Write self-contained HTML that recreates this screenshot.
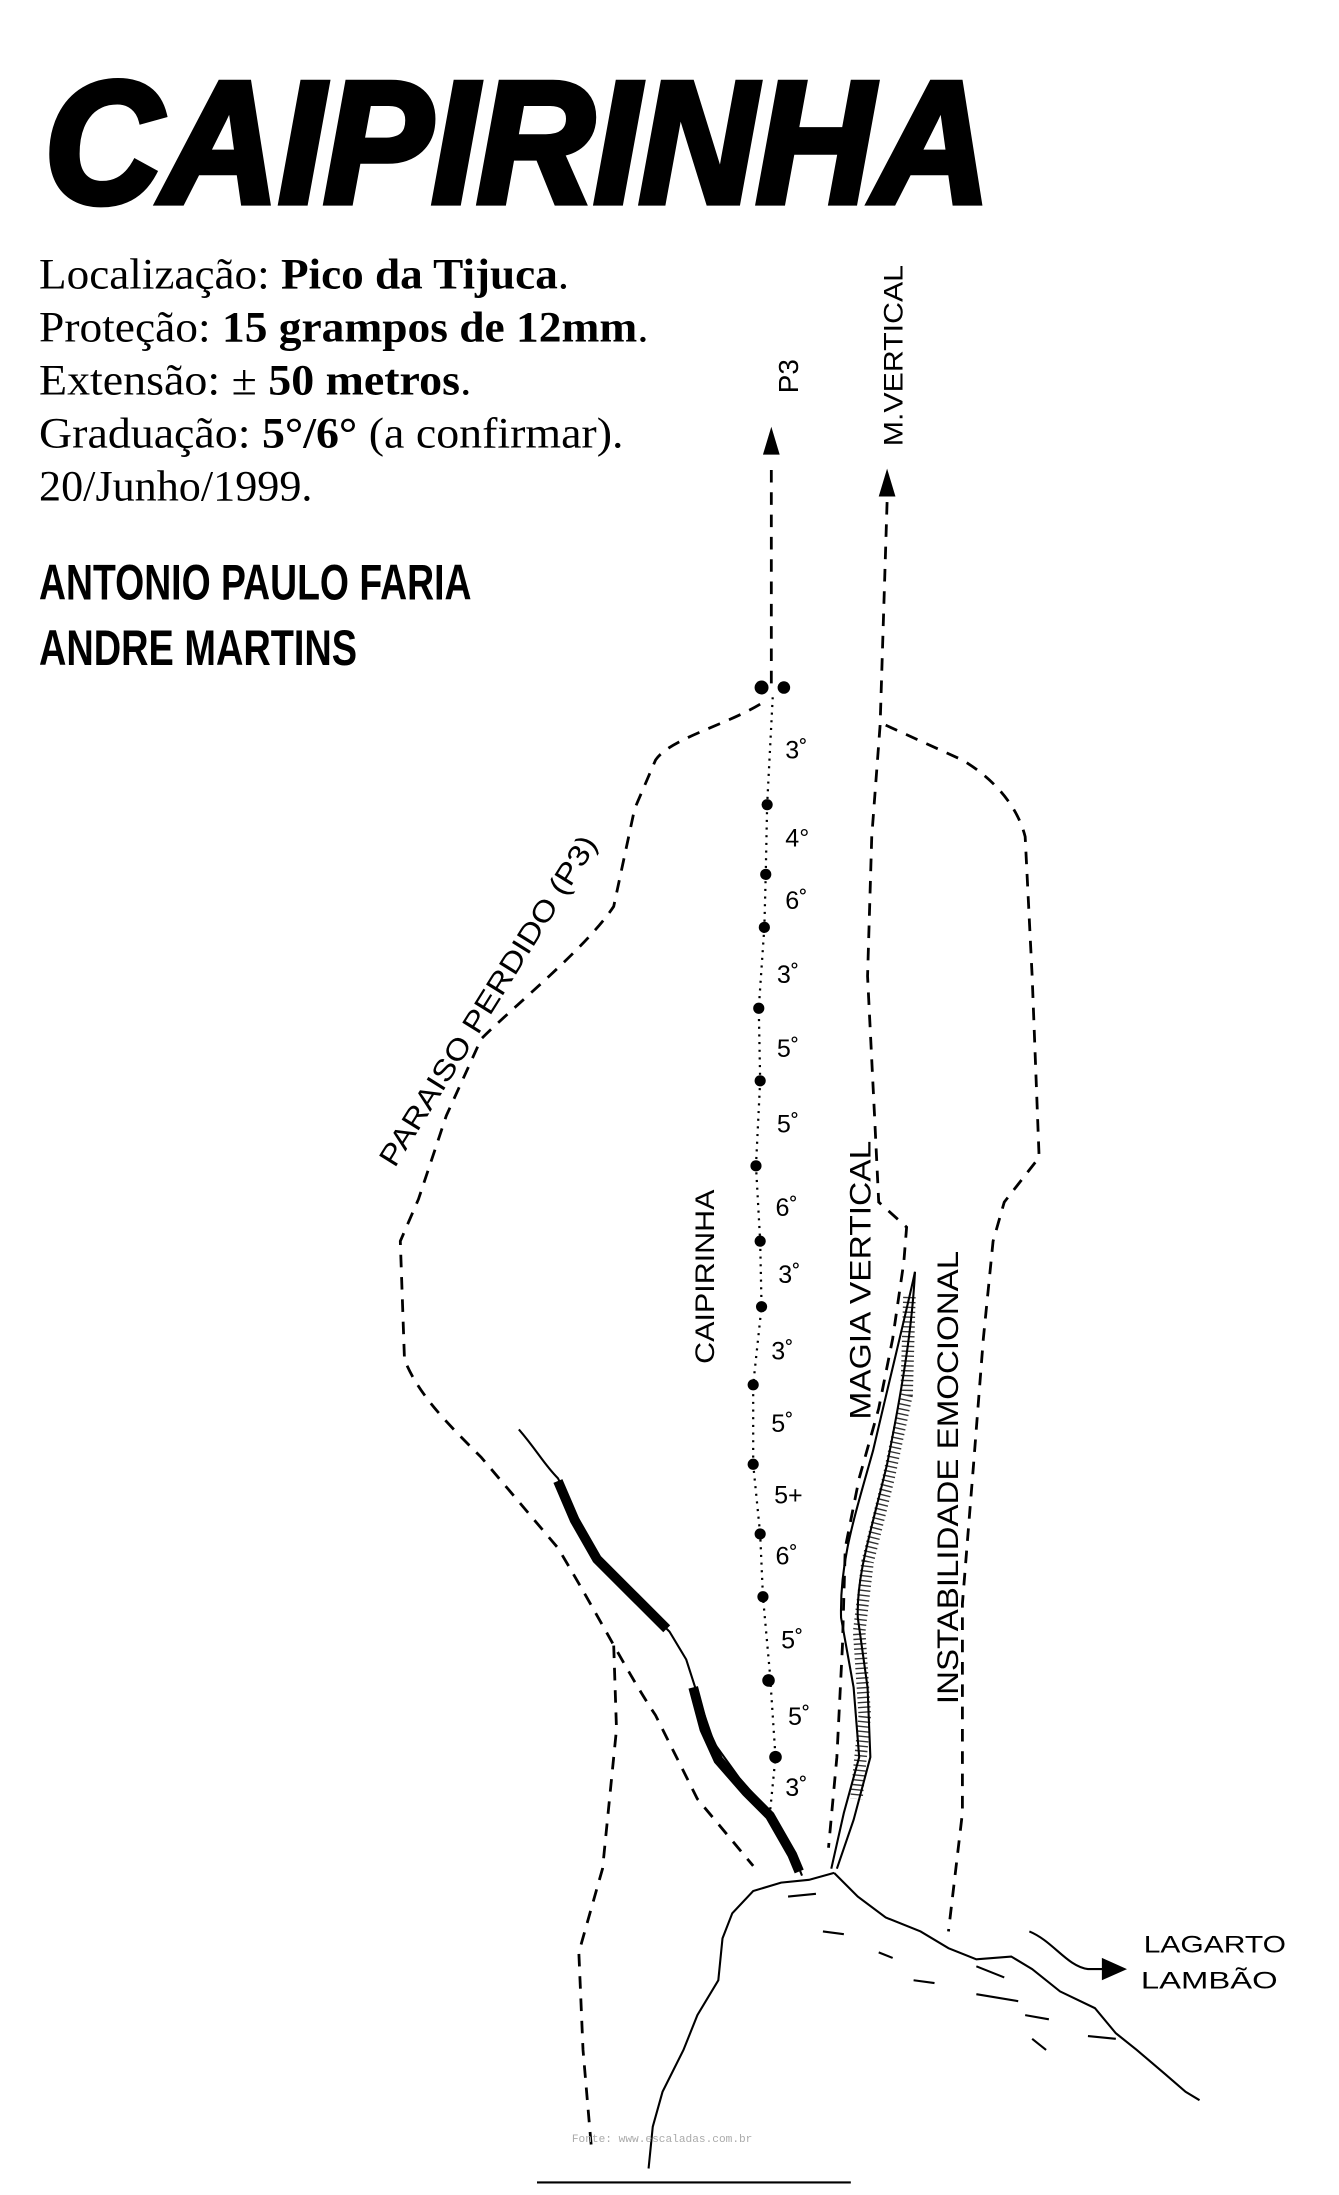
<!DOCTYPE html>
<html><head><meta charset="utf-8"><style>
html,body{margin:0;padding:0;background:#fff;}
svg{display:block;}
</style></head><body>
<svg width="1339" height="2195" viewBox="0 0 960 1574" preserveAspectRatio="none" xmlns="http://www.w3.org/2000/svg">
<rect width="960" height="1574" fill="#fff"/>
<text x="32" y="145" font-family="Liberation Sans, sans-serif" font-weight="bold" font-style="italic" font-size="124" textLength="678" lengthAdjust="spacingAndGlyphs" fill="#000" stroke="#000" stroke-width="5">CAIPIRINHA</text>
<g font-family="Liberation Serif, serif" font-size="31" fill="#000">
<text x="28" y="207" textLength="380" lengthAdjust="spacingAndGlyphs">Localização: <tspan font-weight="bold">Pico da Tijuca</tspan>.</text>
<text x="28" y="245" textLength="437" lengthAdjust="spacingAndGlyphs">Proteção: <tspan font-weight="bold">15 grampos de  12mm</tspan>.</text>
<text x="28" y="283" textLength="310" lengthAdjust="spacingAndGlyphs">Extensão: ± <tspan font-weight="bold"> 50 metros</tspan>.</text>
<text x="28" y="321" textLength="419" lengthAdjust="spacingAndGlyphs">Graduação:  <tspan font-weight="bold">5°/6°</tspan> (a confirmar).</text>
<text x="28" y="359" textLength="196" lengthAdjust="spacingAndGlyphs">20/Junho/1999.</text>
</g>
<g font-family="Liberation Sans, sans-serif" font-weight="bold" font-size="36" fill="#000">
<text x="28" y="430" textLength="310" lengthAdjust="spacingAndGlyphs">ANTONIO PAULO FARIA</text>
<text x="28" y="477" textLength="228" lengthAdjust="spacingAndGlyphs">ANDRE MARTINS</text>
</g>
<g fill="none" stroke="#000" stroke-width="2" stroke-dasharray="9 7">
<path d="M553 490 L553 330"/>
<path d="M636 360 L631 520 L625 600 L622 700 L627 800 L630 862 L650 880 L648 905 L640 960 L630 1010 L616 1060 L606 1110 L604 1180 L600 1260 L594 1325"/>
<path d="M545 505 C520 520 480 530 470 545 L455 580 L440 650 C420 680 370 720 345 745 L320 800 L300 860 L287 890 L290 975 C300 1000 320 1020 345 1045 L400 1110 C430 1160 450 1200 470 1230 L500 1290 L540 1338"/>
<path d="M440 1180 L442 1240 L432 1340 L415 1400 L418 1470 L424 1540"/>
<path d="M635 520 L690 545 C715 560 730 580 735 600 L740 700 L745 830 L720 862 L712 890 L705 960 L698 1050 L690 1150 L690 1300 L680 1385"/>
</g>
<polygon points="553,306 547,326 559,326" fill="#000"/>
<polygon points="636,336 630,356 642,356" fill="#000"/>
<path d="M554 500 L550 577 L549 627 L548 665 L544 723 L545 775 L542 836 L545 890 L546 937 L540 993 L540 1050 L545 1100 L547 1145 L552 1200 L556 1260 L552 1300" fill="none" stroke="#000" stroke-width="1.6" stroke-dasharray="1.5 4"/>
<g fill="#000">
<circle cx="546" cy="493" r="5"/><circle cx="562" cy="493" r="4.5"/>
<circle cx="550" cy="577" r="4"/><circle cx="549" cy="627" r="4"/><circle cx="548" cy="665" r="4"/>
<circle cx="544" cy="723" r="4"/><circle cx="545" cy="775" r="4"/><circle cx="542" cy="836" r="4"/>
<circle cx="545" cy="890" r="4"/><circle cx="546" cy="937" r="4"/><circle cx="540" cy="993" r="4"/>
<circle cx="540" cy="1050" r="4"/><circle cx="545" cy="1100" r="4"/><circle cx="547" cy="1145" r="4"/>
<circle cx="551" cy="1205" r="4.5"/><circle cx="556" cy="1260" r="4.5"/>
</g>
<g font-family="Liberation Sans, sans-serif" font-size="18" fill="#000">
<text x="563" y="544">3˚</text><text x="563" y="607">4°</text><text x="563" y="652">6˚</text>
<text x="557" y="705">3˚</text><text x="557" y="758">5˚</text><text x="557" y="812">5˚</text>
<text x="556" y="872">6˚</text><text x="558" y="920">3˚</text><text x="553" y="975">3˚</text>
<text x="553" y="1027">5˚</text><text x="555" y="1078">5+</text><text x="556" y="1122">6˚</text>
<text x="560" y="1182">5˚</text><text x="565" y="1237">5˚</text><text x="563" y="1288">3˚</text>
</g>
<g font-family="Liberation Sans, sans-serif" font-size="19" fill="#000">
<text transform="translate(572,282) rotate(-90)" font-size="20">P3</text>
<text transform="translate(647,320) rotate(-90)" textLength="130" lengthAdjust="spacingAndGlyphs">M.VERTICAL</text>
<text transform="translate(283,838) rotate(-58)" textLength="275" lengthAdjust="spacingAndGlyphs" font-size="21">PARAISO PERDIDO (P3)</text>
<text transform="translate(512,978) rotate(-90)" textLength="125" lengthAdjust="spacingAndGlyphs">CAIPIRINHA</text>
<text transform="translate(624,1018) rotate(-90)" textLength="200" lengthAdjust="spacingAndGlyphs" font-size="21">MAGIA VERTICAL</text>
<text transform="translate(687,1222) rotate(-90)" textLength="325" lengthAdjust="spacingAndGlyphs" font-size="21">INSTABILIDADE EMOCIONAL</text>
</g>
<path d="M372 1025 C385 1040 390 1050 400 1060 L415 1090 L430 1120 L460 1150 L480 1170 L492 1190 L500 1215 L512 1250 L530 1275 L552 1300 L565 1320 L575 1345" fill="none" stroke="#000" stroke-width="1.5"/>
<path d="M400 1062 L412 1090 L428 1118 L455 1145 L478 1168" fill="none" stroke="#000" stroke-width="7"/>
<path d="M497 1210 L505 1240 L515 1262 L535 1285 L552 1302 L568 1330 L573 1342" fill="none" stroke="#000" stroke-width="7"/>
<path d="M656 912 C650 940 640 980 626 1040 C612 1090 602 1120 603 1160 L612 1210 L616 1260 L605 1300 L596 1340" fill="none" stroke="#000" stroke-width="1.5"/>
<path d="M656 912 C654 950 648 990 636 1050 C624 1100 614 1130 615 1160 L622 1210 L624 1260 L612 1305 L600 1340" fill="none" stroke="#000" stroke-width="1.5"/>
<path d="M652 930 L650 1000 L637 1060 L622 1120 L616 1170 L620 1230 L614 1290" fill="none" stroke="#000" stroke-width="9" stroke-dasharray="1 2.5" stroke-opacity="0.8"/>
<path d="M598 1343 L580 1348 L560 1350 L540 1356 L525 1372 L518 1390 L515 1420 L500 1445 L490 1470 L475 1500 L468 1525 L465 1555" fill="none" stroke="#000" stroke-width="1.5"/>
<path d="M598 1343 L615 1360 L635 1375 L660 1385 L680 1397 L700 1405 L725 1403 L740 1412 L760 1428 L785 1440 L800 1458 L815 1470 L835 1487 L850 1500 L860 1506" fill="none" stroke="#000" stroke-width="1.5"/>
<g stroke="#000" stroke-width="1.5">
<line x1="565" y1="1360" x2="585" y2="1358"/><line x1="590" y1="1385" x2="605" y2="1387"/>
<line x1="630" y1="1400" x2="640" y2="1404"/><line x1="655" y1="1420" x2="670" y2="1422"/>
<line x1="700" y1="1410" x2="720" y2="1418"/><line x1="700" y1="1430" x2="730" y2="1435"/>
<line x1="735" y1="1445" x2="752" y2="1448"/><line x1="740" y1="1462" x2="750" y2="1470"/>
<line x1="780" y1="1460" x2="800" y2="1462"/><line x1="385" y1="1565" x2="610" y2="1565"/>
</g>
<path d="M738 1385 C755 1392 765 1410 780 1412 L795 1412" fill="none" stroke="#000" stroke-width="1.5"/>
<polygon points="808,1412 790,1404 790,1420" fill="#000"/>
<g font-family="Liberation Sans, sans-serif" font-size="17" fill="#000">
<text x="820" y="1400" textLength="102" lengthAdjust="spacingAndGlyphs">LAGARTO</text>
<text x="818" y="1426" textLength="98" lengthAdjust="spacingAndGlyphs">LAMBÃO</text>
</g>
<text x="410" y="1536" font-family="Liberation Mono, monospace" font-size="8" fill="#aaa">Fonte: www.escaladas.com.br</text>
</svg>
</body></html>
